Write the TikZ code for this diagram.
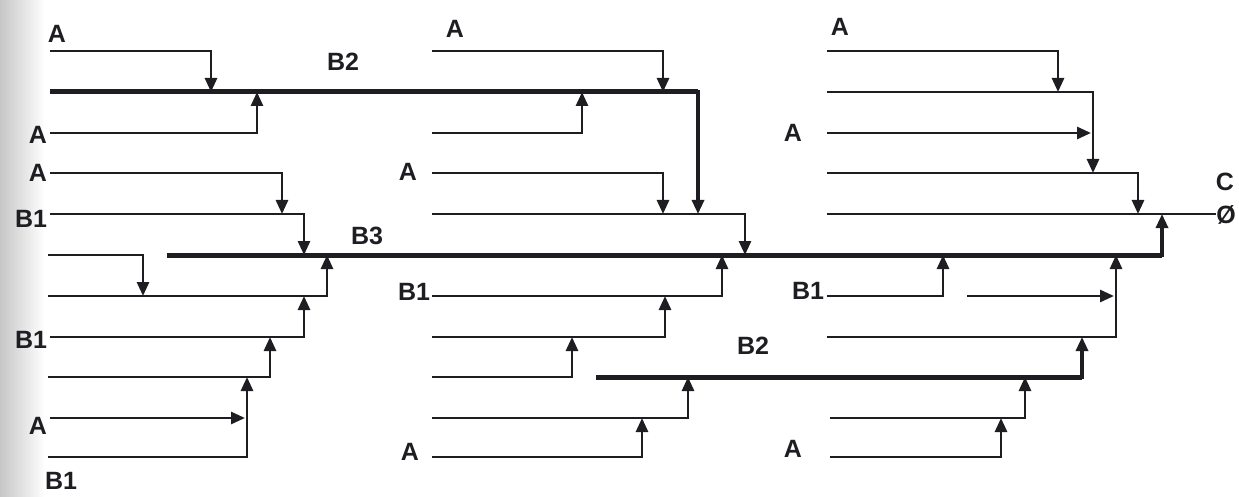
\documentclass[tikz,border=0pt]{standalone}
\usepackage{fontspec}
\setmainfont{Liberation Sans}
\usetikzlibrary{arrows.meta}
\definecolor{ink}{HTML}{1E1E22}
\begin{document}
\begin{tikzpicture}[x=1pt,y=-1pt,
  wire/.style={draw=ink, line width=2.8pt},
  vbus/.style={draw=ink, line width=3.2pt},
  bus/.style={draw=ink, line width=5pt},
  tip/.style={-{Triangle[length=14pt,width=12pt]}},
  lbl/.style={inner sep=0pt, text=ink, font=\fontsize{25}{28}\selectfont\bfseries}]
\useasboundingbox (0,0) rectangle (1239,497);
% scanned page edge
\shade[left color=black!22, right color=white] (0,0) rectangle (45,497);

% ---------------- left block ----------------
\coordinate (l0s) at (50,51);   \coordinate (l0t) at (211,92);
\coordinate (b2s) at (50,92);   \coordinate (b2c) at (698,92);  \coordinate (b2t) at (698,214);
\coordinate (l2s) at (50,133);  \coordinate (l2t) at (257,92);
\coordinate (l3s) at (50,173);  \coordinate (l3t) at (282,214);
\coordinate (l4s) at (50,214);  \coordinate (l4t) at (304,255);
\coordinate (b3s) at (167,255); \coordinate (b3c) at (1162,255); \coordinate (b3t) at (1162,214);
\coordinate (l5s) at (48,255);  \coordinate (l5t) at (143,296);
\coordinate (l6s) at (48,296);  \coordinate (l6t) at (327,255);
\coordinate (l7s) at (50,337);  \coordinate (l7t) at (304,296);
\coordinate (l8s) at (48,377);  \coordinate (l8t) at (270,337);
\coordinate (l9s) at (50,418);  \coordinate (l9t) at (245,418);
\coordinate (l10s) at (48,457); \coordinate (l10t) at (247,377);

\draw[wire,tip] (l0s) -| (l0t);
\draw[vbus,tip] (b2s) -| (b2t);
\draw[bus] (b2s) -- (b2c);
\draw[wire,tip] (l2s) -| (l2t);
\draw[wire,tip] (l3s) -| (l3t);
\draw[wire,tip] (l4s) -| (l4t);
\draw[vbus,tip] (b3s) -| (b3t);
\draw[bus] (b3s) -- (b3c);
\draw[wire,tip] (l5s) -| (l5t);
\draw[wire,tip] (l6s) -| (l6t);
\draw[wire,tip] (l7s) -| (l7t);
\draw[wire,tip] (l8s) -| (l8t);
\draw[wire,tip] (l9s) -- (l9t);
\draw[wire,tip] (l10s) -| (l10t);

\node[lbl] (tA1) at (57,34)  {A};
\node[lbl] (tB2a) at (343,62) {B2};
\node[lbl] (tA2) at (38,135) {A};
\node[lbl] (tA3) at (38,173) {A};
\node[lbl] (tB1a) at (31,219) {B1};
\node[lbl] (tB3) at (367,236) {B3};
\node[lbl] (tB1b) at (31,340) {B1};
\node[lbl] (tA4) at (38,426) {A};
\node[lbl] (tB1c) at (61,481) {B1};

% ---------------- middle block ----------------
\coordinate (m0s) at (432,51);  \coordinate (m0t) at (663,92);
\coordinate (m2s) at (432,133); \coordinate (m2t) at (582,92);
\coordinate (m3s) at (432,173); \coordinate (m3t) at (663,214);
\coordinate (m4s) at (432,214); \coordinate (m4t) at (745,255);
\coordinate (m6s) at (432,296); \coordinate (m6t) at (722,255);
\coordinate (m7s) at (432,337); \coordinate (m7t) at (665,296);
\coordinate (m8s) at (432,377); \coordinate (m8t) at (572,337);
\coordinate (c2s) at (596,377); \coordinate (c2c) at (1082,377); \coordinate (c2t) at (1082,337);
\coordinate (m9s) at (432,418); \coordinate (m9t) at (688,377);
\coordinate (m10s) at (432,457); \coordinate (m10t) at (642,418);

\draw[wire,tip] (m0s) -| (m0t);
\draw[wire,tip] (m2s) -| (m2t);
\draw[wire,tip] (m3s) -| (m3t);
\draw[wire,tip] (m4s) -| (m4t);
\draw[wire,tip] (m6s) -| (m6t);
\draw[wire,tip] (m7s) -| (m7t);
\draw[wire,tip] (m8s) -| (m8t);
\draw[vbus,tip] (c2s) -| (c2t);
\draw[bus] (c2s) -- (c2c);
\draw[wire,tip] (m9s) -| (m9t);
\draw[wire,tip] (m10s) -| (m10t);

\node[lbl] (uA1) at (455,29)  {A};
\node[lbl] (uA2) at (408,172) {A};
\node[lbl] (uB1) at (414,292) {B1};
\node[lbl] (uB2) at (753,346) {B2};
\node[lbl] (uA3) at (410,452) {A};

% ---------------- right block ----------------
\coordinate (r0s) at (827,51);  \coordinate (r0t) at (1058,92);
\coordinate (r1s) at (827,92);  \coordinate (r1t) at (1093,173);
\coordinate (r2s) at (827,133); \coordinate (r2t) at (1091,133);
\coordinate (r3s) at (827,173); \coordinate (r3t) at (1138,214);
\coordinate (r4s) at (827,214);
\coordinate (r6s) at (827,296); \coordinate (r6t) at (943,255);
\coordinate (r6bs) at (967,296); \coordinate (r6bt) at (1114,296);
\coordinate (r7s) at (827,337); \coordinate (r7t) at (1116,255);
\coordinate (r9s) at (830,418); \coordinate (r9t) at (1025,377);
\coordinate (r10s) at (830,457); \coordinate (r10t) at (1001,418);

\node[lbl] (out) at (1226,215) {Ø};
\node[lbl] (outC) at (1225,182) {C};

\draw[wire,tip] (r0s) -| (r0t);
\draw[wire,tip] (r1s) -| (r1t);
\draw[wire,tip] (r2s) -- (r2t);
\draw[wire,tip] (r3s) -| (r3t);
\draw[wire] (r4s) -- (r4s -| out.west);
\draw[wire,tip] (r6s) -| (r6t);
\draw[wire,tip] (r6bs) -- (r6bt);
\draw[wire,tip] (r7s) -| (r7t);
\draw[wire,tip] (r9s) -| (r9t);
\draw[wire,tip] (r10s) -| (r10t);

\node[lbl] (vA1) at (840,27)  {A};
\node[lbl] (vA2) at (793,133) {A};
\node[lbl] (vB1) at (808,291) {B1};
\node[lbl] (vA3) at (793,449) {A};
\end{tikzpicture}
\end{document}
